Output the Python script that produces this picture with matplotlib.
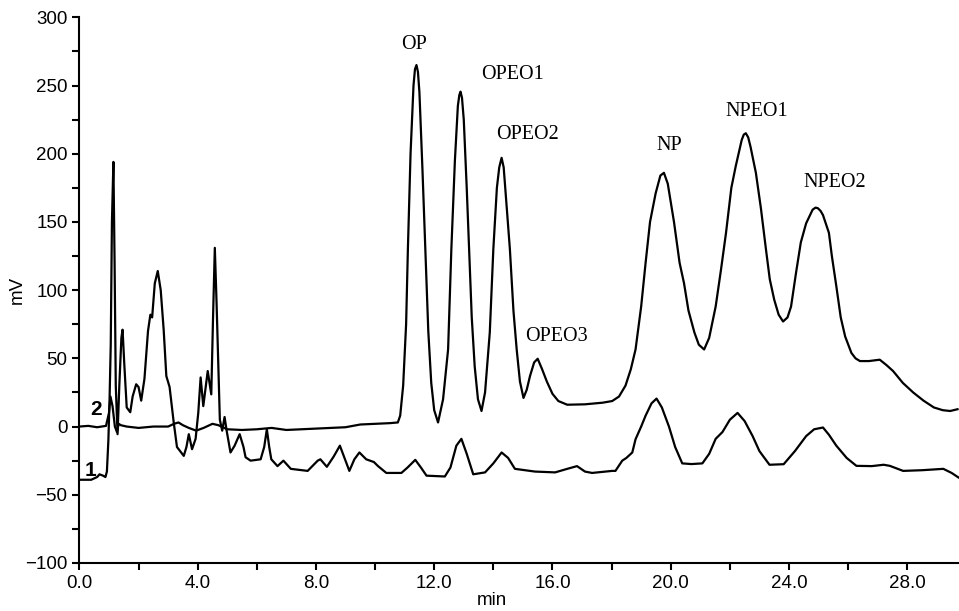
import matplotlib
matplotlib.use('Agg')
import matplotlib.pyplot as plt
from matplotlib.ticker import MultipleLocator

# Trace 2 (upper chromatogram), time in min and signal in mV
t2 = [0, 0.3, 0.6, 0.9, 1.0, 1.05, 1.12, 1.2, 1.27, 1.33, 1.4, 1.6, 2.0, 2.5, 3.0,
      3.2, 3.35, 3.5, 3.7, 3.95, 4.2, 4.5, 4.7, 5.0, 5.5, 6.0, 6.5, 7.0, 7.5, 8.0,
      8.5, 9.0, 9.5, 10.0, 10.5, 10.77, 10.85, 10.95, 11.05, 11.11, 11.2, 11.3, 11.35,
      11.4, 11.45, 11.5, 11.6, 11.7, 11.8, 11.9, 12.0, 12.13, 12.3, 12.47, 12.58, 12.7,
      12.8, 12.85, 12.89, 12.94, 13.0, 13.1, 13.18, 13.27, 13.37, 13.48, 13.6, 13.72,
      13.88, 14.0, 14.12, 14.2, 14.28, 14.35, 14.42, 14.56, 14.68, 14.79, 14.9, 15.02,
      15.13, 15.24, 15.38, 15.5, 15.65, 15.81, 16.0, 16.2, 16.5, 17.1, 17.7, 18.02,
      18.25, 18.47, 18.65, 18.81, 19.0, 19.15, 19.3, 19.49, 19.65, 19.77, 19.9, 20.11,
      20.3, 20.45, 20.6, 20.8, 20.95, 21.13, 21.3, 21.52, 21.7, 21.87, 22.05, 22.2,
      22.4, 22.47, 22.54, 22.62, 22.7, 22.88, 23.05, 23.22, 23.35, 23.5, 23.65, 23.8,
      23.95, 24.07, 24.24, 24.4, 24.58, 24.8, 24.9, 24.98, 25.07, 25.15, 25.35, 25.45,
      25.6, 25.75, 25.9, 26.11, 26.25, 26.4, 26.7, 27.07, 27.3, 27.52, 27.85, 28.2,
      28.55, 28.9, 29.2, 29.45, 29.7]
mv2 = [0, 0.5, -0.5, 0.5, 10, 22, 15, 0, -4, 2, 1, 0, -1, 0, 0,
       2, 3, 1, -1, -3, -1, 2, 1, -2, -2.5, -2, -1, -2.5, -2, -1.5,
       -1, -0.5, 1.5, 2, 2.5, 3, 8, 30, 75, 130, 200, 250, 262,
       265, 260, 245, 190, 130, 70, 32, 12, 3, 20, 56.5, 130, 195,
       235, 243, 245.5, 241, 225, 175, 130, 80, 44, 20, 11.4, 25,
       69, 130, 175, 190, 197, 190, 170, 130, 85, 56.5, 33, 21,
       27, 37, 47, 49.7, 42, 33, 24, 18.7, 16, 16.3, 17.5, 18.7,
       22, 30, 42, 56.5, 88, 120, 150, 171, 184, 186, 178, 150,
       120, 105, 85, 69, 60, 56.5, 65, 88, 115, 142, 175, 191,
       210, 214, 215, 212, 205, 186, 160, 130, 108, 93, 82, 77,
       80, 88, 113, 135, 149, 159, 160.5, 160, 158, 155, 142, 125,
       103, 80, 66, 54, 50, 48, 48, 49, 45, 40.7, 32, 25,
       19, 14, 12, 11.4, 12.7]

# Trace 1 (lower chromatogram)
t1 = [0, 0.4, 0.6, 0.68, 0.8, 0.88, 0.93, 0.98, 1.02, 1.06, 1.1, 1.15, 1.19, 1.23,
      1.29, 1.35, 1.42, 1.46, 1.52, 1.6, 1.72, 1.8, 1.92, 2.0, 2.09, 2.2, 2.32, 2.4,
      2.46, 2.55, 2.65, 2.75, 2.85, 2.94, 3.05, 3.19, 3.3, 3.53, 3.62, 3.7, 3.81, 3.93,
      4.02, 4.1, 4.19, 4.34, 4.46, 4.52, 4.58, 4.64, 4.75, 4.83, 4.91, 4.98, 5.11,
      5.25, 5.42, 5.55, 5.62, 5.79, 6.13, 6.25, 6.34, 6.42, 6.49, 6.7, 6.9, 7.15,
      7.72, 8.06, 8.15, 8.37, 8.6, 8.81, 8.95, 9.13, 9.3, 9.47, 9.7, 9.96, 10.1,
      10.38, 10.89, 11.1, 11.36, 11.55, 11.74, 12.36, 12.55, 12.75, 12.92, 13.1,
      13.32, 13.72, 14.0, 14.28, 14.5, 14.73, 15.41, 16.09, 16.5, 16.83, 17.1, 17.34,
      18.02, 18.13, 18.36, 18.5, 18.7, 18.81, 19.0, 19.15, 19.35, 19.52, 19.7, 19.94,
      20.15, 20.39, 20.7, 21.07, 21.3, 21.52, 21.75, 22.0, 22.26, 22.5, 22.77, 23.0,
      23.34, 23.82, 24.2, 24.58, 24.85, 25.15, 25.35, 25.6, 25.95, 26.28, 26.8, 27.2,
      27.41, 27.86, 28.5, 29.22, 29.5, 29.73]
mv1 = [-39, -39, -37, -35, -36, -37, -33, -10, 20, 60, 150, 194, 120, 30,
       -5.6, 30, 65, 71, 45, 14, 10.5, 22, 31, 29, 19, 35, 70, 82,
       80, 105, 114, 100, 71, 37, 29, 3, -15, -21.5, -15, -5.6, -16.6, -9,
       10, 36, 15, 40.7, 23.6, 80, 131, 90, 5, -3, 7, -3, -19,
       -14, -5.6, -15, -22.5, -25, -24, -15, -2, -15, -24, -29, -25, -31,
       -32.5, -25, -24, -29.5, -22, -14, -22, -32.5, -24, -19, -24, -26, -29,
       -34, -34, -30, -24.4, -30, -36, -36.6, -30, -14, -9, -20,
       -35, -33.6, -27, -19, -23, -31, -33, -33.6, -31, -29, -33, -34,
       -32.5, -32.5, -25, -23, -19, -9.3, 0, 8, 17, 20.5, 14, 0,
       -15, -27, -27.5, -27, -20, -9, -4, 5, 10, 4, -7, -18,
       -28, -27.6, -18, -7, -2, -0.7, -6, -14, -23, -28.8, -29, -28,
       -28.8, -32.5, -32, -31, -34, -37.3]

peak_names = ['OP', 'OPEO1', 'OPEO2', 'OPEO3', 'NP', 'NPEO1', 'NPEO2']
label_t = [11.33, 14.65, 15.17, 16.15, 19.94, 22.9, 25.55]
label_mv = [280, 258, 214, 66, 206, 231, 179]

fig = plt.figure(figsize=(9.59, 6.11), dpi=100)
ax = fig.add_axes([0.0828, 0.0786, 0.9172, 0.8931])

ax.plot(t2, mv2, color='black', linewidth=1.6)
ax.plot(t1, mv1, color='black', linewidth=1.6)

for name, x, y in zip(peak_names, label_t, label_mv):
    ax.text(x, y, name, family='Liberation Serif', fontsize=14.5,
            ha='center', va='center')

ax.text(0.55, 12.3, '2', family='Liberation Sans', fontsize=15,
        fontweight='bold', ha='center', va='center')
ax.text(0.38, -32, '1', family='Liberation Sans', fontsize=15,
        fontweight='bold', ha='center', va='center')

ax.set_xlim(0, 29.75)
ax.set_ylim(-100, 300)
ax.xaxis.set_major_locator(MultipleLocator(4))
ax.xaxis.set_minor_locator(MultipleLocator(2))
ax.yaxis.set_major_locator(MultipleLocator(50))
ax.yaxis.set_minor_locator(MultipleLocator(25))
ax.set_xticklabels([f'{v:.1f}' for v in ax.get_xticks()])

ax.spines['top'].set_visible(False)
ax.spines['right'].set_visible(False)
for s in ['left', 'bottom']:
    ax.spines[s].set_linewidth(1.5)
ax.tick_params(which='both', direction='out', length=5, width=1.5)
for lab in ax.get_xticklabels() + ax.get_yticklabels():
    lab.set_family('Liberation Sans')
    lab.set_fontsize(13.5)

ax.set_xlabel('min', family='Liberation Sans', fontsize=13.5)
ax.set_ylabel('mV', family='Liberation Sans', fontsize=13.5)
ax.xaxis.set_label_coords(0.469, -0.053)
ax.yaxis.set_label_coords(-0.061, 0.5)

plt.savefig('out.png', dpi=100)
